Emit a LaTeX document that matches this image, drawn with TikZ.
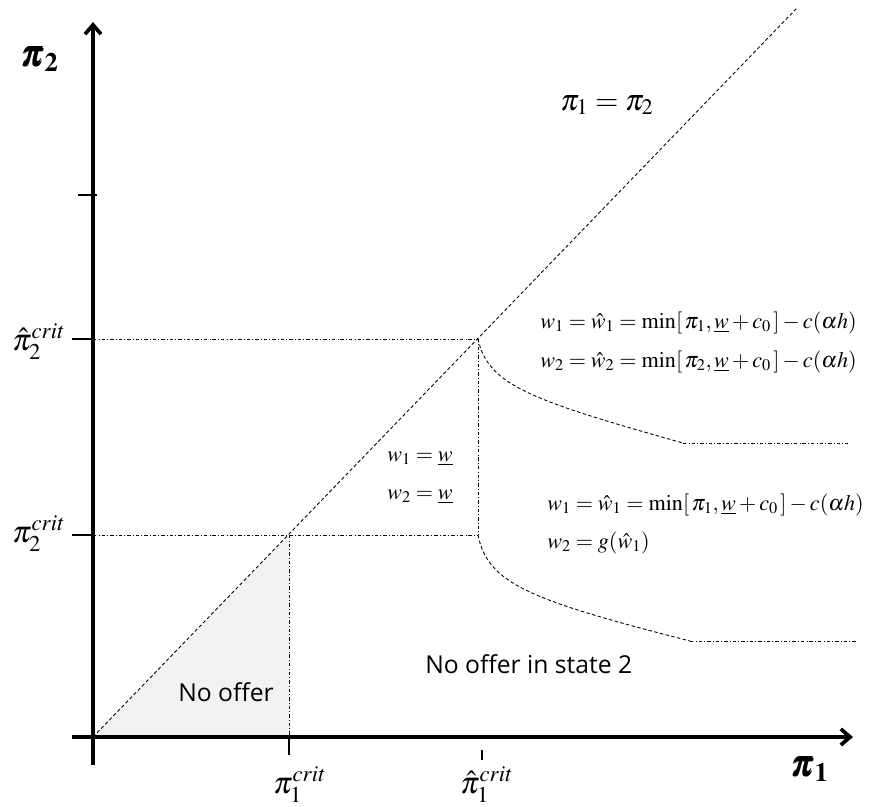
\documentclass[tikz,border=0pt]{standalone}
\usepackage{mathptmx}
\usepackage{amsmath}
\usepackage{bm}
\usepackage[no-math]{fontspec}
\newfontfamily\regionfont{Open Sans}
\usetikzlibrary{positioning,arrows.meta}

\begin{document}
\begin{tikzpicture}[x=0.75pt, y=-0.75pt,
  axisline/.style={line width=2.8pt, -{Straight Barb[length=7pt,width=12pt]}},
  tickmark/.style={line width=0.9pt},
  guide/.style={line width=0.6pt, dash pattern=on 2.6pt off 1.6pt on 0.6pt off 1.6pt},
  diag/.style={line width=0.65pt, dash pattern=on 2.6pt off 1.8pt},
  axislbl/.style={anchor=base west, inner sep=0pt, font=\fontsize{27}{30}\selectfont},
  critlbl/.style={anchor=base west, inner sep=0pt, font=\fontsize{23}{26}\selectfont},
  eqn/.style={anchor=base west, inner sep=0pt, font=\fontsize{16.6}{19}\selectfont},
  region/.style={anchor=base west, inner sep=0pt, font=\regionfont\fontsize{18.5}{21}\selectfont}]
\useasboundingbox (0,0) rectangle (872,807);

% key points
\coordinate (o) at (93,737);
\coordinate (pc) at (289,535);
\coordinate (ph) at (478,339);
\coordinate (pcx) at (289,737);
\coordinate (phx) at (478,535);
\coordinate (pcy) at (93,535);
\coordinate (phy) at (93,339);
\coordinate (dtop) at (797,8);
\coordinate (ybot) at (93,765);
\coordinate (ytop) at (93,22);
\coordinate (xleft) at (72,737);
\coordinate (xright) at (853,737);
\coordinate (kink1) at (683,443);
\coordinate (end1) at (848,443);
\coordinate (kink2) at (690,641);
\coordinate (end2) at (857,641);

% no offer region
\fill[gray!10] (o) -- (pc) -- (pcx) -- cycle;

% guides
\draw[guide] (phy) -- (ph) -- (phx);
\draw[guide] (pcy) -- (phx);
\draw[guide] (pc) -- (pcx);
\draw[diag] (o) -- (dtop);

% boundaries
\draw[diag] (ph) .. controls (488,385) and (530,400) .. (kink1);
\draw[guide] (kink1) -- (end1);
\draw[diag] (phx) .. controls (488,584) and (530,600) .. (kink2);
\draw[guide] (kink2) -- (end2);

% axes
\draw[axisline] (ybot) -- (ytop);
\draw[axisline] (xleft) -- (xright);
\draw[tickmark] (78,195) -- (97,195);
\draw[tickmark] (phy) -- ++(-21,0);
\draw[tickmark] (pcy) -- ++(-21,0);
\draw[tickmark] (pcx) -- ++(0,18);
\draw[tickmark] (482,750) -- (482,760);

% labels
\node[axislbl] (lp2) at (20,66) {$\bm{\pi}_{\mathbf{2}}$};
\node[axislbl] (lp1) at (790,776) {$\bm{\pi}_{\mathbf{1}}$};
\node[critlbl] (lp2h) at (12,350) {$\hat{\pi}_2^{crit}$};
\node[critlbl] (lp2c) at (12,542) {$\pi_2^{crit}$};
\node[critlbl] (lp1c) at (273,793) {$\pi_1^{crit}$};
\node[critlbl] (lp1h) at (460,793) {$\hat{\pi}_1^{crit}$};
\node[axislbl, font=\fontsize{22.5}{26}\selectfont] (ldiag) at (560,110) {$\pi_1 = \pi_2$};

\node[eqn] (ea1) at (387,461) {$w_1 = \underline{w}$};
\node[eqn] (ea2) at (387,499) {$w_2 = \underline{w}$};
\node[eqn] (eb1) at (540,328) {$w_1 = \hat{w}_1 = \min[\,\pi_1, \underline{w} + c_0\,] - c(\alpha h)$};
\node[eqn] (eb2) at (540,367) {$w_2 = \hat{w}_2 = \min[\,\pi_2, \underline{w} + c_0\,] - c(\alpha h)$};
\node[eqn] (ec1) at (547,510) {$w_1 = \hat{w}_1 = \min[\,\pi_1, \underline{w} + c_0\,] - c(\alpha h)$};
\node[eqn] (ec2) at (547,548) {$w_2 = g(\hat{w}_1)$};

\node[region] (lnone) at (178,701) {No offer};
\node[region] (lnostate) at (425,673) {No offer in state 2};
\end{tikzpicture}
\end{document}
